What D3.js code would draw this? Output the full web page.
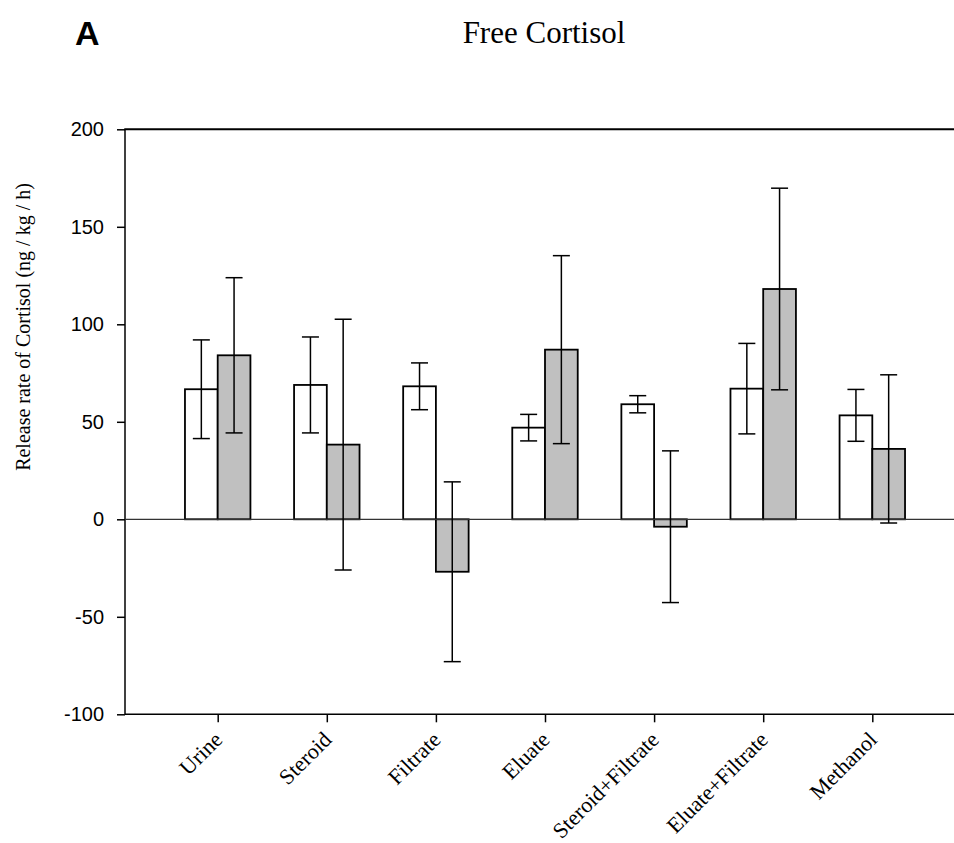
<!DOCTYPE html>
<html>
<head>
<meta charset="utf-8">
<script src="https://cdn.jsdelivr.net/npm/d3@7"></script>
<style>
  body { margin: 0; background: #fff; }
  svg { display: block; }
</style>
</head>
<body>
<svg></svg>
<script>
let categories = ['Urine', 'Steroid', 'Filtrate', 'Eluate', 'Steroid+Filtrate', 'Eluate+Filtrate', 'Methanol'];
let whiteMeans = [66.7, 68.9, 68.2, 47.0, 59.0, 67.0, 53.3];
let whiteErrors = [25.3, 24.6, 12.0, 6.8, 4.4, 23.2, 13.3];
let grayMeans = [84.1, 38.3, -26.9, 87.0, -3.8, 118.1, 36.1];
let grayErrors = [39.8, 64.3, 46.1, 48.2, 38.9, 51.7, 38.0];
let yTicks = [-100, -50, 0, 50, 100, 150, 200];

let width = 954;
let height = 843;
let plotLeft = 125;
let plotRight = 954;
let plotTop = 129.3;
let plotBottom = 714.3;

let svg = d3.select('svg').
attr('width', width).
attr('height', height);

let xScale = d3.scalePoint().
domain(categories).
range([217.7, 872.3]);

let yScale = d3.scaleLinear().
domain([-100, 200]).
range([plotBottom, plotTop]);

let barWidth = xScale.step() * 0.3;

let drawAxes = () => {
  let yAxis = d3.axisLeft(yScale).
  tickValues(yTicks).
  tickFormat(d => String(d)).
  tickSize(8).
  tickSizeOuter(0).
  tickPadding(13);

  let gy = svg.append('g').
  attr('transform', 'translate(' + plotLeft + ', 0)').
  call(yAxis);
  gy.select('.domain').remove();
  gy.selectAll('line').attr('stroke', '#000').attr('stroke-width', 1.5);
  gy.selectAll('text').
  style('font-family', 'Arial, "Liberation Sans", sans-serif').
  style('font-size', '20px').
  attr('fill', '#000');

  let xAxis = d3.axisBottom(xScale).
  tickSize(8).
  tickSizeOuter(0).
  tickFormat('');

  let gx = svg.append('g').
  attr('transform', 'translate(0, ' + plotBottom + ')').
  call(xAxis);
  gx.select('.domain').remove();
  gx.selectAll('line').attr('stroke', '#000').attr('stroke-width', 1.5);

  // frame lines: left, bottom and the heavier top border
  svg.append('line').
  attr('x1', plotLeft).attr('x2', plotLeft).
  attr('y1', plotTop).attr('y2', plotBottom).
  attr('stroke', '#000').attr('stroke-width', 1.5);
  svg.append('line').
  attr('x1', plotLeft).attr('x2', plotRight).
  attr('y1', plotBottom).attr('y2', plotBottom).
  attr('stroke', '#000').attr('stroke-width', 1.5);
  svg.append('line').
  attr('x1', plotLeft - 0.75).attr('x2', plotRight).
  attr('y1', plotTop).attr('y2', plotTop).
  attr('stroke', '#000').attr('stroke-width', 2);

  svg.append('g').
  selectAll('text').
  data(categories).
  enter().
  append('text').
  attr('transform', d => 'translate(' + (xScale(d) + 6) + ', 741) rotate(-45)').
  attr('text-anchor', 'end').
  style('font-family', '"Times New Roman", "Liberation Serif", serif').
  style('font-size', '22px').
  text(d => d);
};

let drawBars = () => {
  let groups = categories.map((c, i) => [
  { cat: c, mean: whiteMeans[i], err: whiteErrors[i], fill: '#ffffff', offset: -barWidth },
  { cat: c, mean: grayMeans[i], err: grayErrors[i], fill: '#c0c0c0', offset: 0 }]).
  flat();

  svg.append('g').
  selectAll('rect').
  data(groups).
  enter().
  append('rect').
  attr('x', d => xScale(d.cat) + d.offset).
  attr('width', barWidth).
  attr('y', d => yScale(Math.max(0, d.mean))).
  attr('height', d => Math.abs(yScale(d.mean) - yScale(0))).
  attr('fill', d => d.fill).
  attr('stroke', '#000').
  attr('stroke-width', 1.8);

  // zero reference line
  svg.append('line').
  attr('x1', plotLeft).attr('x2', plotRight).
  attr('y1', yScale(0)).attr('y2', yScale(0)).
  attr('stroke', '#333').attr('stroke-width', 1.2);

  let err = svg.append('g').
  selectAll('g').
  data(groups).
  enter().
  append('g').
  attr('stroke', '#000').
  attr('stroke-width', 1.5);

  let cx = d => xScale(d.cat) + d.offset + barWidth / 2;

  err.append('line').
  attr('x1', cx).attr('x2', cx).
  attr('y1', d => yScale(d.mean + d.err)).
  attr('y2', d => yScale(d.mean - d.err));
  err.append('line').
  attr('x1', d => cx(d) - 8.5).attr('x2', d => cx(d) + 8.5).
  attr('y1', d => yScale(d.mean + d.err)).
  attr('y2', d => yScale(d.mean + d.err));
  err.append('line').
  attr('x1', d => cx(d) - 8.5).attr('x2', d => cx(d) + 8.5).
  attr('y1', d => yScale(d.mean - d.err)).
  attr('y2', d => yScale(d.mean - d.err));
};

let drawTitles = () => {
  svg.append('text').
  attr('x', 544).
  attr('y', 43).
  attr('text-anchor', 'middle').
  style('font-family', '"Times New Roman", "Liberation Serif", serif').
  style('font-size', '31px').
  text('Free Cortisol');

  svg.append('text').
  attr('x', 75).
  attr('y', 45).
  style('font-family', 'Arial, "Liberation Sans", sans-serif').
  style('font-size', '34px').
  style('font-weight', 'bold').
  text('A');

  svg.append('text').
  attr('transform', 'rotate(-90)').
  attr('x', -327).
  attr('y', 30).
  attr('text-anchor', 'middle').
  style('font-family', '"Times New Roman", "Liberation Serif", serif').
  style('font-size', '20px').
  text('Release rate of Cortisol (ng / kg / h)');
};

drawAxes();
drawBars();
drawTitles();
</script>
</body>
</html>
